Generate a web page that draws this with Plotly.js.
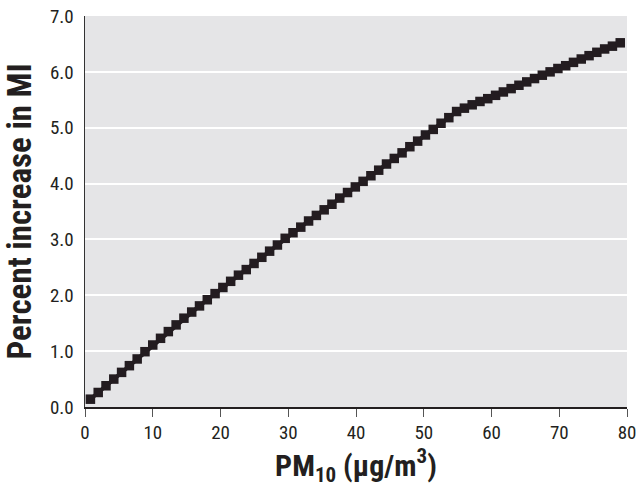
<!DOCTYPE html>
<html>
<head>
<meta charset="utf-8">
<script src="https://cdn.plot.ly/plotly-3.0.1.min.js"></script>
<style>
html,body{margin:0;padding:0;background:#fff;}
#chart{width:642px;height:499px;}
</style>
</head>
<body>
<div id="chart"></div>
<script>
// PM10 concentration (µg/m3)
const pm10 = [0.8,1.95,3.1,4.25,5.4,6.55,7.7,8.85,10.0,11.15,12.3,13.45,14.6,15.75,16.9,18.05,19.2,20.35,21.5,22.65,23.8,24.95,26.1,27.25,28.4,29.55,30.7,31.85,33.0,34.15,35.3,36.45,37.6,38.75,39.9,41.05,42.2,43.35,44.5,45.65,46.8,47.95,49.1,50.25,51.4,52.55,53.7,54.85,56.0,57.15,58.3,59.45,60.6,61.75,62.9,64.05,65.2,66.35,67.5,68.65,69.8,70.95,72.1,73.25,74.4,75.55,76.7,77.85,79.0];
// Percent increase in MI
const pctIncrease = [0.14,0.26,0.38,0.50,0.62,0.74,0.86,0.99,1.11,1.23,1.35,1.47,1.59,1.70,1.81,1.92,2.03,2.14,2.25,2.36,2.46,2.57,2.68,2.79,2.90,3.02,3.12,3.22,3.33,3.43,3.53,3.63,3.74,3.84,3.94,4.04,4.14,4.24,4.35,4.45,4.55,4.66,4.76,4.87,4.97,5.08,5.18,5.29,5.35,5.41,5.47,5.52,5.58,5.64,5.70,5.76,5.82,5.88,5.94,6.00,6.06,6.11,6.17,6.23,6.29,6.35,6.41,6.46,6.52];
const xTicks = [0,10,20,30,40,50,60,70,80];
const yTicks = [0,1,2,3,4,5,6,7];

const fontFam = '"Liberation Sans Narrow", "Arial Narrow", "Roboto Condensed", "Liberation Sans", sans-serif';

Plotly.newPlot('chart', [{
  x: pm10,
  y: pctIncrease,
  mode: 'lines+markers',
  line: {color: '#231c20', width: 4},
  marker: {symbol: 'square', size: 9.5, color: '#231c20'},
  hoverinfo: 'x+y'
}], {
  width: 642, height: 499,
  margin: {l: 85, r: 15, t: 16, b: 92},
  paper_bgcolor: '#ffffff',
  plot_bgcolor: '#e5e5e7',
  showlegend: false,
  font: {family: fontFam, color: '#231f20', size: 17},
  xaxis: {
    range: [0, 80],
    tickvals: xTicks,
    ticktext: xTicks.map(String),
    showgrid: false,
    zeroline: false,
    showline: true, linecolor: '#231f20', linewidth: 1.5,
    ticks: 'outside', ticklen: 8, tickcolor: '#555', tickwidth: 1,
    tickfont: {family: fontFam, size: 19, color: '#231f20'},
    title: {text: '<b>PM<sub>10</sub> (μg/m<sup>3</sup>)</b>', font: {family: fontFam, size: 30, color: '#231f20'}, standoff: 6}
  },
  yaxis: {
    range: [0, 7],
    tickvals: yTicks,
    ticktext: yTicks.map(v => v.toFixed(1)),
    showgrid: true, gridcolor: '#ffffff', gridwidth: 2,
    zeroline: false,
    showline: true, linecolor: '#333', linewidth: 1.5,
    ticks: '', ticklabelstandoff: 6,
    tickfont: {family: fontFam, size: 19, color: '#231f20'},
    title: {text: '<b>Percent increase in MI</b>', font: {family: fontFam, size: 33, color: '#231f20'}, standoff: 8}
  }
}, {displayModeBar: false, staticPlot: true});
</script>
</body>
</html>
